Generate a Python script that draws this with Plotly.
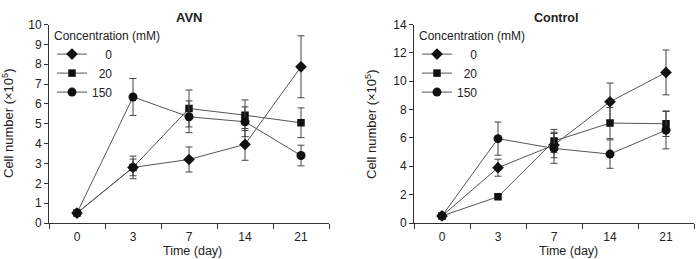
import plotly.graph_objects as go

days = ["0", "3", "7", "14", "21"]
series_names = ["\u2007\u20070", "\u200720", "150"]
symbols = ["diamond", "square", "circle"]

# AVN panel
avn_vals = [
    [0.5, 2.80, 3.20, 3.96, 7.87],
    [0.5, 2.80, 5.77, 5.43, 5.05],
    [0.5, 6.35, 5.35, 5.10, 3.40],
]
avn_err = [
    [0.0, 0.42, 0.63, 0.80, 1.56],
    [0.0, 0.57, 0.93, 0.77, 0.75],
    [0.0, 0.93, 0.80, 0.75, 0.52],
]
# Control panel
ctl_vals = [
    [0.5, 3.90, 5.50, 8.55, 10.62],
    [0.5, 1.85, 5.78, 7.05, 7.00],
    [0.5, 5.95, 5.26, 4.86, 6.55],
]
ctl_err = [
    [0.0, 0.60, 0.90, 1.32, 1.58],
    [0.0, 0.15, 0.82, 1.10, 0.90],
    [0.0, 1.17, 1.05, 1.00, 1.32],
]

FONT = "Liberation Sans, Arial, sans-serif"
LINE_C = "#555555"
MARK_C = "#111111"
TXT_C = "#222222"

fig = go.Figure()

def add_panel(vals, errs, xa, ya, legend):
    for name, sym, v, e in zip(series_names, symbols, vals, errs):
        fig.add_trace(go.Scatter(
            x=days, y=v, name=name, mode="lines+markers",
            xaxis=xa, yaxis=ya, legend=legend,
            line=dict(color=LINE_C, width=1),
            marker=dict(symbol=sym, color=MARK_C,
                        size=9 if sym != "square" else 7.5),
            error_y=dict(type="data", array=e, visible=True,
                         color="#444444", thickness=1, width=3.5),
        ))

add_panel(avn_vals, avn_err, "x", "y", "legend")
add_panel(ctl_vals, ctl_err, "x2", "y2", "legend2")

ydom = [1 - 223 / 259, 1 - 24.5 / 259]
xcommon = dict(type="category", categoryorder="array", categoryarray=days,
               range=[-0.5, 4.5], tickson="boundaries", ticks="outside",
               ticklen=5, tickcolor="#333", showline=True, linecolor="#333",
               linewidth=1, showgrid=False, zeroline=False,
               ticklabelstandoff=3,
               tickfont=dict(family=FONT, size=12, color=TXT_C),
               automargin=False)
ycommon = dict(ticks="outside", ticklen=4, tickcolor="#333", showline=True,
               linecolor="#333", linewidth=1, showgrid=False, zeroline=False,
               tickfont=dict(family=FONT, size=12, color=TXT_C),
               automargin=False)

legcommon = dict(
    title=dict(text="Concentration (mM)", font=dict(family=FONT, size=12, color=TXT_C)),
    font=dict(family=FONT, size=12, color=TXT_C),
    bgcolor="rgba(0,0,0,0)", borderwidth=0,
    xanchor="left", yanchor="top", itemwidth=30,
)

fig.update_layout(
    width=697, height=259,
    margin=dict(l=0, r=0, t=0, b=0),
    paper_bgcolor="white", plot_bgcolor="white",
    showlegend=True,
    xaxis=dict(domain=[49 / 697, 329 / 697], anchor="y", **xcommon),
    yaxis=dict(domain=ydom, anchor="x", range=[0, 10], dtick=1, **ycommon),
    xaxis2=dict(domain=[414 / 697, 694 / 697], anchor="y2", **xcommon),
    yaxis2=dict(domain=ydom, anchor="x2", range=[0, 14], dtick=2, **ycommon),
    legend=dict(x=52 / 697, y=1 - 24 / 259, **legcommon),
    legend2=dict(x=417 / 697, y=1 - 24 / 259, **legcommon),
)

def ann(text, x, y, size=11, bold=False, angle=0):
    fig.add_annotation(
        text=f"<b>{text}</b>" if bold else text,
        x=x / 697, y=1 - y / 259, xref="paper", yref="paper",
        showarrow=False, textangle=angle,
        font=dict(family=FONT, size=size, color=TXT_C),
        xanchor="center", yanchor="middle",
    )

ann("AVN", 189, 18, size=13, bold=True)
ann("Control", 556, 18, size=12.5, bold=True)
ann("Time (day)", 192, 251, size=12.5)
ann("Time (day)", 568, 251, size=12.5)
ann("Cell number (\u00d710<sup>5</sup>)", 8, 124, size=13, angle=-90)
ann("Cell number (\u00d710<sup>5</sup>)", 371, 124, size=13, angle=-90)

fig.write_html("out.html")
